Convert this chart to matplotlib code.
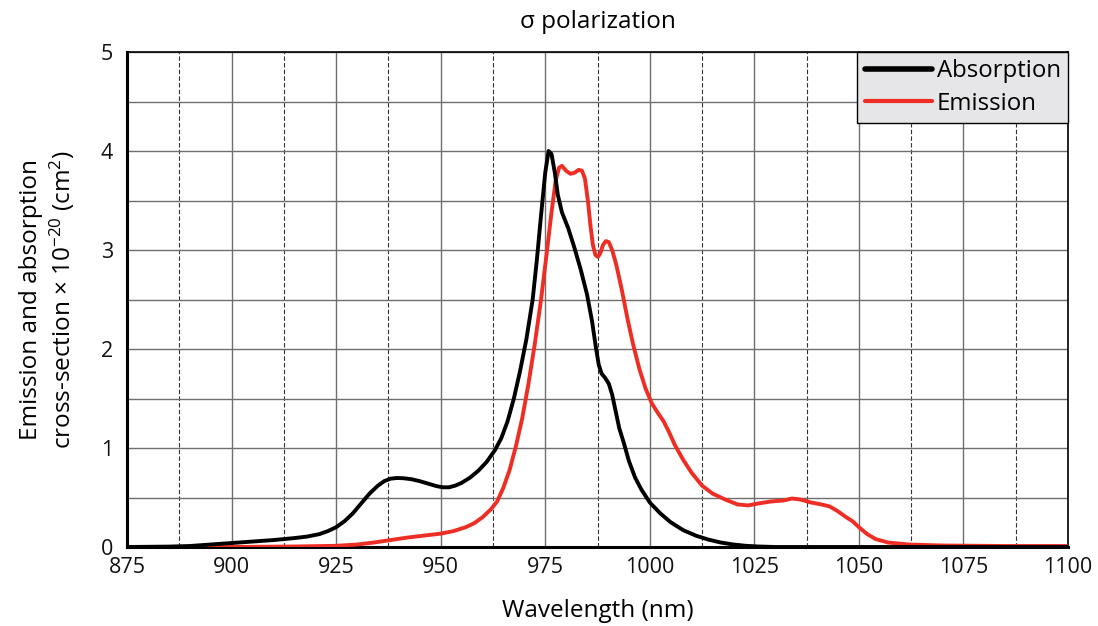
import matplotlib
matplotlib.use("Agg")
import matplotlib.pyplot as plt
from matplotlib.ticker import MultipleLocator

plt.rcParams['font.family'] = ['Open Sans', 'DejaVu Sans']
plt.rcParams['mathtext.fontset'] = 'custom'
plt.rcParams['mathtext.rm'] = 'Open Sans'
plt.rcParams['mathtext.it'] = 'Open Sans'
plt.rcParams['mathtext.default'] = 'regular'

abs_wl = [875, 885, 890, 895, 900, 905, 910, 915, 918, 921, 923, 925, 927, 929, 931, 933, 935, 936.5, 938,
          939.5, 941, 943, 945, 947, 949, 950.5, 952, 953.5, 955, 957, 959, 961, 963, 964.5, 966, 967.5,
          969, 970.5, 972, 973, 974, 975, 975.8, 976.5, 977.3, 978, 979, 980.5, 982, 983.5, 985, 986.2,
          987.1, 987.8, 988.5, 989.3, 990.2, 991, 991.8, 992.7, 993.8, 995, 996.5, 998, 1000, 1002.5, 1005, 1008,
          1011, 1014, 1017, 1020, 1023, 1026, 1030, 1050, 1100]
abs_val = [0.0, 0.004, 0.01, 0.025, 0.04, 0.055, 0.07, 0.09, 0.105, 0.13, 0.16, 0.2, 0.26, 0.34, 0.44, 0.54, 0.62,
           0.665, 0.69, 0.697, 0.695, 0.685, 0.665, 0.64, 0.615, 0.603, 0.603, 0.62, 0.648, 0.7, 0.77, 0.86,
           0.98, 1.1, 1.27, 1.5, 1.78, 2.1, 2.5, 2.9, 3.35, 3.78, 4.0, 3.97, 3.78, 3.56, 3.38, 3.22, 3.02, 2.8,
           2.55, 2.28, 2.02, 1.84, 1.75, 1.71, 1.65, 1.54, 1.38, 1.2, 1.05, 0.87, 0.7, 0.58, 0.45, 0.34, 0.25, 0.17,
           0.115, 0.075, 0.045, 0.025, 0.012, 0.005, 0.0, 0.0, 0.0]

emi_wl = [875, 900, 915, 925, 930, 934, 938, 942, 946, 950, 953, 956, 958, 960, 962, 963.5, 965, 966.5,
          968, 969.5, 971, 972.5, 974, 975.3, 976.5, 977.5, 978.3, 979, 980, 981, 982, 983, 983.8, 984.5,
          985.2, 985.8, 986.4, 987, 987.6, 988.2, 988.8, 989.5, 990.2, 991, 992, 993.3, 994.7, 996, 997.5,
          999, 1000.5, 1002, 1003.3, 1004.5, 1006, 1008, 1010, 1012.5, 1015, 1018, 1021, 1023.5, 1026,
          1029, 1032, 1034, 1036, 1038.5, 1041, 1043, 1045, 1047, 1048.5, 1050, 1052, 1054, 1057, 1062,
          1070, 1085, 1100]
emi_val = [0.0, 0.0, 0.005, 0.012, 0.025, 0.045, 0.07, 0.095, 0.115, 0.135, 0.16, 0.2, 0.24, 0.3, 0.38, 0.46,
           0.6, 0.78, 1.02, 1.3, 1.65, 2.05, 2.5, 2.95, 3.38, 3.7, 3.83, 3.85, 3.8, 3.77, 3.78, 3.81, 3.8,
           3.72, 3.5, 3.25, 3.05, 2.95, 2.93, 2.97, 3.05, 3.09, 3.08, 3.0, 2.85, 2.6, 2.3, 2.05, 1.8,
           1.6, 1.45, 1.35, 1.27, 1.17, 1.03, 0.88, 0.75, 0.62, 0.54, 0.48, 0.43, 0.42, 0.44, 0.46, 0.47, 0.49,
           0.48, 0.45, 0.43, 0.41, 0.36, 0.3, 0.26, 0.2, 0.13, 0.08, 0.045, 0.025, 0.015, 0.01, 0.01]

fig = plt.figure(figsize=(10.98, 6.26), dpi=100)
ax = fig.add_axes([127/1098, 1-547/626, (1068-127)/1098, (547-52)/626])

ax.set_xlim(875, 1100)
ax.set_ylim(0, 5)
ax.xaxis.set_major_locator(MultipleLocator(25))
ax.xaxis.set_minor_locator(MultipleLocator(12.5))
ax.yaxis.set_major_locator(MultipleLocator(1))
ax.yaxis.set_minor_locator(MultipleLocator(0.5))

ax.grid(which='major', axis='both', color='#6e6e6e', lw=1.0)
ax.grid(which='minor', axis='x', color='#333333', lw=0.8, ls=(0, (4, 2)))
ax.grid(which='minor', axis='y', color='#6e6e6e', lw=1.0)
ax.set_axisbelow(True)

ax.plot(emi_wl, emi_val, color='#ee2e24', lw=2.8, label='Emission', zorder=3,
        solid_joinstyle='round', solid_capstyle='round')
ax.plot(abs_wl, abs_val, color='black', lw=2.8, label='Absorption', zorder=4,
        solid_joinstyle='round', solid_capstyle='round')

for s in ['left', 'bottom']:
    ax.spines[s].set_linewidth(2.2)
for s in ['top', 'right']:
    ax.spines[s].set_linewidth(1.2)

ax.tick_params(which='both', length=0, labelsize=15.5, pad=7, colors='#111111')
ax.tick_params(axis='y', pad=10)

ax.set_xlabel('Wavelength (nm)', fontsize=17.5, labelpad=15)
ax.set_ylabel('Emission and absorption\ncross-section × 10$^{-20}$ (cm$^{2}$)', fontsize=17.5, labelpad=17,
              linespacing=1.2)
ax.set_title('σ polarization', fontsize=17.5, pad=17)

handles, labels = ax.get_legend_handles_labels()
order = [1, 0]
leg = ax.legend([handles[i] for i in order], [labels[i] for i in order], loc='upper right',
                fontsize=17.3, frameon=True, fancybox=False, framealpha=1, borderaxespad=0,
                handlelength=2.8, handletextpad=0.2, borderpad=0.3, labelspacing=0.35)
leg.get_frame().set_facecolor('#e6e6e8')
leg.get_frame().set_edgecolor('black')
leg.get_frame().set_linewidth(1.0)
for line in leg.get_lines():
    line.set_linewidth(4.0 if line.get_color() == 'black' else 3.0)

fig.savefig('out.png', dpi=100)
